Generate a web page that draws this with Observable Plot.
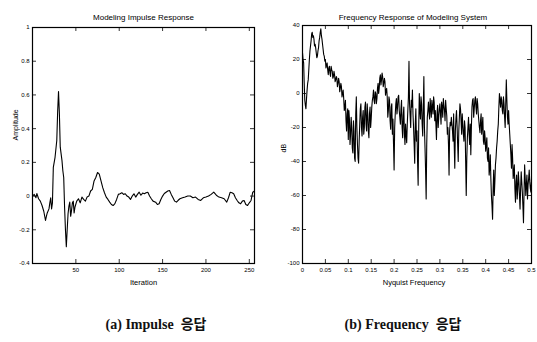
<!DOCTYPE html>
<html><head><meta charset="utf-8">
<script src="https://cdn.jsdelivr.net/npm/d3@7"></script>
<script src="https://cdn.jsdelivr.net/npm/@observablehq/plot@0.6"></script>
<style>
body{margin:0;background:#fff;}
#wrap{position:relative;width:537px;height:342px;background:#fff;overflow:hidden;}
#left{position:absolute;left:0;top:0}
#right{position:absolute;left:268px;top:0}
.cap{position:absolute;top:313px;font-family:"Liberation Serif","Noto Sans CJK KR",serif;font-weight:bold;font-size:14px;white-space:nowrap;transform:translateX(-50%);color:#111;}
</style></head>
<body><div id="wrap"><div id="left"></div><div id="right"></div>
<div class="cap" id="capA" style="left:156px"></div><div class="cap" id="capB" style="left:403px"></div></div>
<script>
// ---- Data ----
const impulseN = [0,2,4,5,7,9,11,13,15,16,17,19,20,21,22,23,24,26,28,29,30,31,32,34,35,36,37,38,39,40,41,42,43,44,45,46,47,48,49,51,53,55,57,59,61,63,65,67,69,71,73,75,77,79,81,83,85,87,89,91,93,95,97,99,101,103,105,107,109,111,113,115,117,119,121,123,125,127,129,131,133,135,137,139,142,144,146,148,150,152,154,156,158,160,162,164,166,168,170,173,176,179,182,185,188,191,194,197,200,203,206,209,212,215,218,221,224,226,228,230,232,234,236,238,240,242,244,246,248,250,252,254,256];
const impulseV = [0,0.01,-0.01,0.015,-0.016,-0.03,-0.056,-0.09,-0.145,-0.12,-0.1,-0.076,-0.04,-0.01,-0.076,-0.04,0.17,0.23,0.33,0.5,0.62,0.49,0.29,0.21,0.15,0.11,-0.066,-0.2,-0.3,-0.2,-0.105,-0.06,-0.036,-0.12,-0.085,-0.04,-0.03,-0.1,-0.065,-0.03,-0.016,-0.04,-0.006,-0.02,-0.03,-0.005,0,0.03,0.04,0.09,0.11,0.14,0.13,0.09,0.05,0.02,-0.006,-0.02,-0.036,-0.05,-0.056,-0.045,-0.02,0.01,0.014,0.02,0.01,0.014,0,-0.006,-0.02,0,0.014,-0.006,0.01,0.023,0.005,0.018,0.014,0.02,0.023,0,-0.016,-0.03,-0.036,-0.05,-0.046,-0.02,0,0.015,0.023,0.03,0.033,0.01,-0.01,-0.03,-0.036,-0.025,-0.016,-0.01,-0.006,0,0,-0.01,-0.006,-0.02,-0.026,-0.01,-0.006,0,0.01,0.023,0.005,-0.006,-0.01,-0.016,-0.036,-0.01,0.023,0.02,0.014,-0.01,-0.026,-0.04,-0.046,-0.03,-0.026,-0.05,-0.056,-0.04,-0.026,0.023,0.03];
const impulseTicksX = [50,100,150,200,250];
const impulseTicksY = [-0.4,-0.2,0,0.2,0.4,0.6,0.8,1];

// dB values at evenly spaced frequencies from 0 to 0.5 (Nyquist)
const freqDB = [
 24,18,-4,-9,2,8,20,28,35,33,
 32,29,24,22,27,33,38,32,26,22,
 20,17,14,15,12,16,13,10,11,8,
 9,6,7,3,4,0,-3,-8,-16,-12,
 -27,-15,-24,-20,-35,-22,-40,-2,-30,-41,
 -18,-6,-25,-10,-20,-5,-22,-12,-26,-8,
 -15,-4,2,-6,0,-3,6,3,11,8,
 10,6,7,2,-2,-10,-4,-21,-6,-15,
 -45,-12,-3,-8,-1,-14,-9,-20,-13,-24,
 -18,-29,-10,19,-13,-4,2,-20,-41,-9,
 -22,-54,0,-15,-6,-25,10,-32,-62,-14,
 -5,-15,-9,-4,-12,-5,-10,-27,-7,-14,
 -6,-18,-8,-3,-10,-4,-13,-20,-48,-17,
 -14,-22,-12,-44,-15,-19,-40,-14,-9,-24,
 -18,-28,-20,-60,-26,-14,-30,-36,-8,-3,
 -9,-2,-12,-6,-16,-23,-12,-19,-28,-22,
 -34,-26,-40,-48,-36,-60,-74,-45,-52,-38,
 -28,-18,0,-8,-4,-12,-6,-20,8,-14,
 -10,-24,-36,-30,-50,-42,-64,-48,-56,-52,
 -68,-46,-58,-76,-42,-60,-48,-54,-45,-56,-50
];
// dB values half-way between the samples above
const freqDBMid = [
 20,6,-7,-3,6,14,25,31,36,34,
 28,27,21,25,31,36,34,29,23,19,
 15,18,11,16,10,14,9,13,7,10,
 4,9,1,6,-2,2,-10,-4,-22,-9,
 -10,-30,-14,-32,-16,-38,-12,-20,-38,-28,
 -9,-20,-14,-24,-8,-18,-6,-22,-12,-20,
 -8,-2,-4,1,-6,3,0,9,5,12,
 4,9,-1,3,-14,-2,-16,-8,-24,-30,
 -20,-6,-12,-2,-10,-18,-4,-26,-8,-30,
 -24,-18,-2,-6,-20,-8,-12,-30,-18,-28,
 -40,-20,-10,-2,-18,-8,-20,-45,-30,-10,
 -11,-3,-14,-8,-2,-16,-18,-12,-20,-9,
 -12,-5,-14,-7,-16,-9,-24,-30,-22,-19,
 -18,-28,-30,-22,-10,-30,-22,-6,-16,-12,
 -24,-16,-40,-38,-20,-24,-18,-20,-4,-14,
 -4,-8,-3,-12,-20,-16,-24,-14,-30,-26,
 -30,-38,-32,-44,-50,-66,-56,-60,-42,-32,
 -22,-8,-4,-2,-10,-2,-14,-6,-4,-18,
 -18,-30,-44,-38,-46,-56,-52,-62,-46,-60,
 -56,-52,-66,-58,-50,-54,-62,-50,-52,-58
];
const nyquist = 0.5;
const freqTicksX = [0,0.05,0.1,0.15,0.2,0.25,0.3,0.35,0.4,0.45,0.5];
const freqTicksY = [-100,-80,-60,-40,-20,0,20,40];

const titles = ["Modeling Impulse Response", "Frequency Response of Modeling System"];
const xLabels = ["Iteration", "Nyquist Frequency"];
const yLabels = ["Amplitude", "dB"];
const captions = ["(a) Impulse \u00a0응답", "(b) Frequency \u00a0응답"];

// ---- Helpers ----
const FONT = "Liberation Sans, Arial, sans-serif";
function inward(xt, yt, pw, ph) {
  const L = 4;
  return [
    Plot.tickX(xt, {x: d => d, insetTop: ph - L, stroke: "#000", strokeWidth: 0.8}),
    Plot.tickX(xt, {x: d => d, insetBottom: ph - L, stroke: "#000", strokeWidth: 0.8}),
    Plot.tickY(yt, {y: d => d, insetRight: pw - L, stroke: "#000", strokeWidth: 0.8}),
    Plot.tickY(yt, {y: d => d, insetLeft: pw - L, stroke: "#000", strokeWidth: 0.8})
  ];
}

// ---- Left chart ----
{
  const W = 268, H = 292, mL = 32, mR = 14, mT = 27, mB = 29;
  const idx = d3.range(impulseN.length);
  const chart = Plot.plot({
    width: W, height: H, marginLeft: mL, marginRight: mR, marginTop: mT, marginBottom: mB,
    style: {fontFamily: FONT, background: "#fff", color: "#000"},
    x: {domain: [0, 256]},
    y: {domain: [-0.4, 1]},
    marks: [
      Plot.line(idx, {x: i => impulseN[i], y: i => impulseV[i], stroke: "#000", strokeWidth: 1.1}),
      Plot.frame({stroke: "#000", strokeWidth: 1.2}),
      ...inward(impulseTicksX, impulseTicksY, W - mL - mR, H - mT - mB),
      Plot.axisX(impulseTicksX, {tickSize: 0, tickPadding: 4, fontSize: 6, label: null, tickFormat: d => String(d)}),
      Plot.axisY(impulseTicksY, {tickSize: 0, tickPadding: 3, fontSize: 6, label: null, tickFormat: d => String(d)}),
      Plot.text([titles[0]], {text: d => d, frameAnchor: "top", dy: -13, fontSize: 8}),
      Plot.text([xLabels[0]], {text: d => d, frameAnchor: "bottom", dy: 21, fontSize: 7.5}),
      Plot.text([yLabels[0]], {text: d => d, frameAnchor: "left", dx: -17, dy: -5, rotate: -90, fontSize: 7})
    ]
  });
  document.getElementById("left").appendChild(chart);
}

// ---- Right chart ----
{
  const W = 269, H = 292, mL = 34, mR = 6, mT = 25, mB = 29;
  const step = nyquist / (freqDB.length - 1);
  const pts = [];
  freqDB.forEach((v, i) => {
    pts.push({f: i * step, db: v});
    if (i < freqDBMid.length) pts.push({f: (i + 0.5) * step, db: freqDBMid[i]});
  });
  const chart = Plot.plot({
    width: W, height: H, marginLeft: mL, marginRight: mR, marginTop: mT, marginBottom: mB,
    style: {fontFamily: FONT, background: "#fff", color: "#000"},
    x: {domain: [0, nyquist]},
    y: {domain: [-100, 40]},
    marks: [
      Plot.line(pts, {x: "f", y: "db", stroke: "#000", strokeWidth: 1.1}),
      Plot.frame({stroke: "#000", strokeWidth: 1.2}),
      ...inward(freqTicksX, freqTicksY, W - mL - mR, H - mT - mB),
      Plot.axisX(freqTicksX, {tickSize: 0, tickPadding: 4, fontSize: 6, label: null, tickFormat: d => String(d)}),
      Plot.axisY(freqTicksY, {tickSize: 0, tickPadding: 3, fontSize: 6, label: null, tickFormat: d => String(d)}),
      Plot.text([titles[1]], {text: d => d, frameAnchor: "top", dy: -11, dx: -4, fontSize: 8}),
      Plot.text([xLabels[1]], {text: d => d, frameAnchor: "bottom", dy: 21, dx: -3, fontSize: 7.5}),
      Plot.text([yLabels[1]], {text: d => d, frameAnchor: "left", dx: -19, dy: 8, rotate: -90, fontSize: 7})
    ]
  });
  document.getElementById("right").appendChild(chart);
}

document.getElementById("capA").textContent = captions[0];
document.getElementById("capB").textContent = captions[1];
</script>
</body></html>
